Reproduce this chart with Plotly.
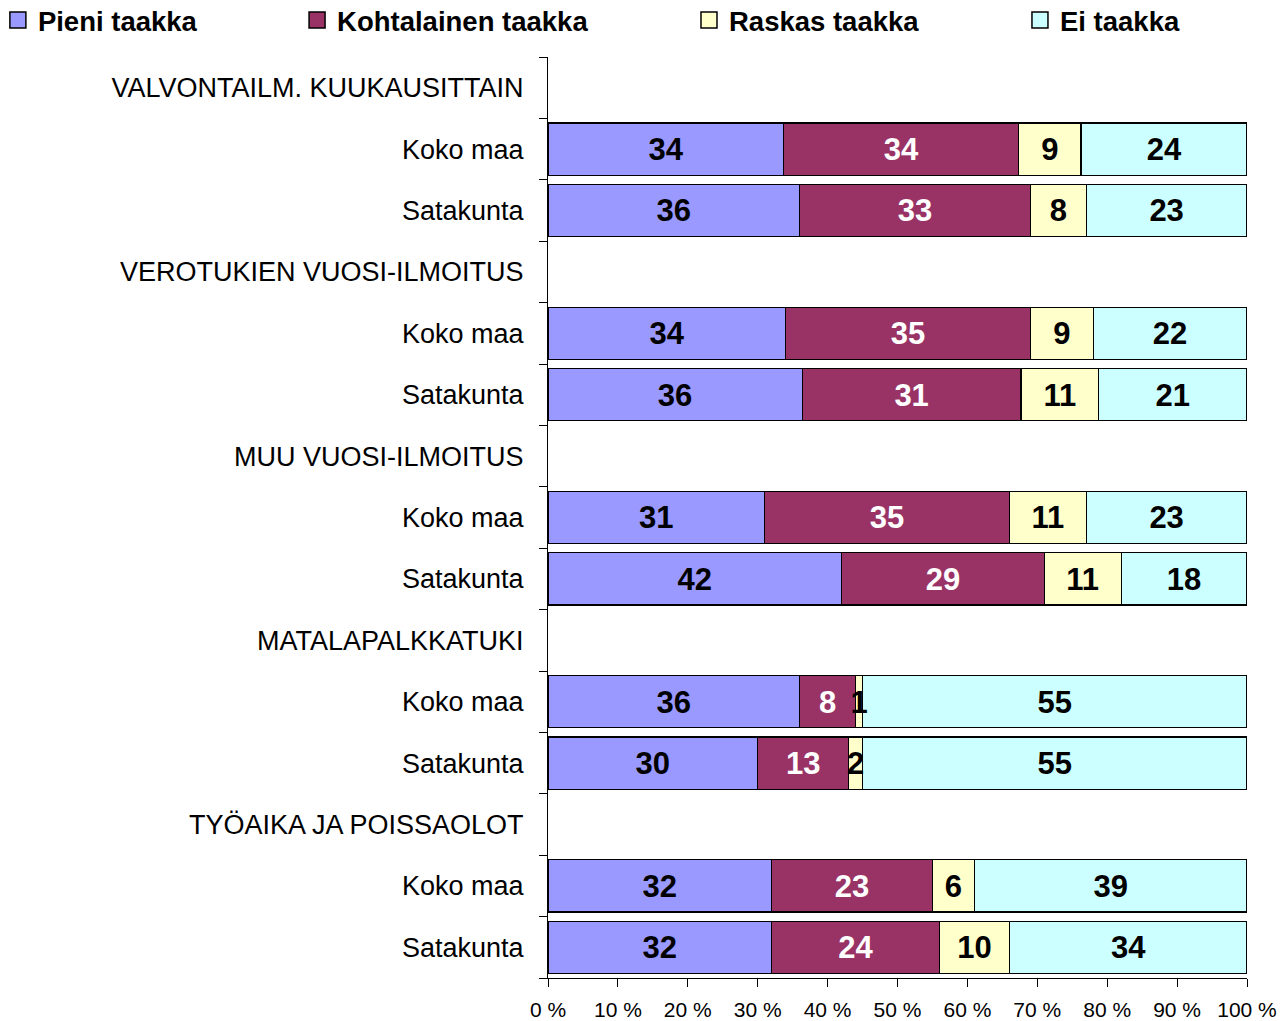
import plotly.graph_objects as go

groups = ["VALVONTAILM. KUUKAUSITTAIN", "VEROTUKIEN VUOSI-ILMOITUS",
          "MUU VUOSI-ILMOITUS", "MATALAPALKKATUKI", "TYÖAIKA JA POISSAOLOT"]
regions = ["Koko maa", "Satakunta"]

series_names = ["Pieni taakka", "Kohtalainen taakka", "Raskas taakka", "Ei taakka"]
pieni = [34, 36, 34, 36, 31, 42, 36, 30, 32, 32]
kohtalainen = [34, 33, 35, 31, 35, 29, 8, 13, 23, 24]
raskas = [9, 8, 9, 11, 11, 11, 1, 2, 6, 10]
ei = [24, 23, 22, 21, 23, 18, 55, 55, 39, 34]

x_ticks = [0, 10, 20, 30, 40, 50, 60, 70, 80, 90, 100]

colors = ["#9999FF", "#993366", "#FFFFCC", "#CCFFFF"]
text_colors = ["black", "white", "black", "black"]

# build row positions: each group has a header row followed by its region rows
tick_pos, tick_text, bar_pos = [], [], []
row = 0
for g in groups:
    tick_pos.append(row)
    tick_text.append(g)
    row += 1
    for r in regions:
        tick_pos.append(row)
        tick_text.append(r)
        bar_pos.append(row)
        row += 1
n_rows = row

FONT = "Liberation Sans, Arial, sans-serif"
LABEL_DY = 0.05  # small vertical nudge so labels sit centred in bars
all_series = [pieni, kohtalainen, raskas, ei]
totals = [sum(s[k] for s in all_series) for k in range(len(bar_pos))]

fig = go.Figure()
legend_x = [-0.787, -0.359, 0.2017, 0.6752]
legend_keys = ["legend", "legend2", "legend3", "legend4"]

# bars (no legend entries; legend built with square markers)
for i, (name, vals) in enumerate(zip(series_names, all_series)):
    fig.add_trace(go.Bar(
        y=bar_pos, x=vals, name=name, orientation="h",
        marker=dict(color=colors[i], line=dict(color="black", width=1.2)),
        width=0.85, hoverinfo="skip", showlegend=False,
    ))

# data labels drawn on top of all bars
cum = [0] * len(bar_pos)
for i, vals in enumerate(all_series):
    mids = []
    for k, v in enumerate(vals):
        mids.append((cum[k] + v / 2) / totals[k] * 100)
        cum[k] += v
    fig.add_trace(go.Scatter(
        x=mids, y=[p + LABEL_DY for p in bar_pos], mode="text",
        text=[str(v) for v in vals], textposition="middle center",
        textfont=dict(family=FONT, size=31, color=text_colors[i], weight="bold"),
        hoverinfo="skip", showlegend=False,
    ))

# legend entries
for i, name in enumerate(series_names):
    fig.add_trace(go.Scatter(
        x=[None], y=[None], mode="markers", name=name,
        marker=dict(symbol="square", size=16, color=colors[i],
                    line=dict(color="black", width=1.5)),
        legend=legend_keys[i],
    ))

legend_common = dict(orientation="h", yanchor="middle", y=1.040, xanchor="left",
                     font=dict(family=FONT, size=27.5, color="black", weight="bold"),
                     bgcolor="rgba(0,0,0,0)")
layout_legends = {k: dict(legend_common, x=legend_x[i]) for i, k in enumerate(legend_keys)}

fig.update_layout(
    width=1280, height=1021,
    margin=dict(l=548, r=33, t=57, b=43, autoexpand=False),
    paper_bgcolor="white", plot_bgcolor="white",
    barmode="stack", barnorm="percent",
    showlegend=True,
    **layout_legends,
)
fig.update_yaxes(
    range=[n_rows - 0.5, -0.5], tickmode="array", tickvals=tick_pos, ticktext=tick_text,
    ticks="", showline=True, linecolor="black", linewidth=1, showgrid=False,
    zeroline=False, ticklabelstandoff=18, automargin=False,
    tickfont=dict(family=FONT, size=27, color="black"),
    minor=dict(ticks="outside", ticklen=8, tickcolor="black", tick0=-0.5, dtick=1, showgrid=False),
)
fig.update_xaxes(
    range=[0, 100], tickmode="array", tickvals=x_ticks,
    ticktext=[f"{v} %" for v in x_ticks],
    ticks="outside", ticklen=8, tickcolor="black", showline=True, linecolor="black",
    linewidth=1, showgrid=False, zeroline=False, ticklabelstandoff=5, automargin=False,
    tickfont=dict(family=FONT, size=21, color="black"),
)

fig.write_html(
    "out.html",
    config={"displayModeBar": False},
    post_script="document.body.style.margin='0';document.body.style.overflow='hidden';",
)
